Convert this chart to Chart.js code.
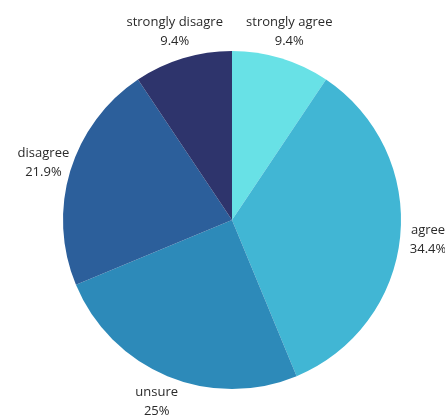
<!DOCTYPE html>
<html>
<head>
<meta charset="utf-8">
<script src="https://cdn.jsdelivr.net/npm/chart.js@4"></script>
<style>
body { margin:0; background:#fff; }
canvas { display:block; }
</style>
</head>
<body>
<canvas id="grafico" width="445" height="415"></canvas>
<script>
const categorias = ["strongly agree","agree","unsure","disagree","strongly disagre"]
const percentuais = [9.4, 34.4, 25, 21.9, 9.4]
const cores = ["#68e1e6","#41b6d4","#2d8ab9","#2c5f9b","#2e346c"]

// ---------------- ROTULOS FORA DA PIZZA ----------------
const rotulos = {
id:"rotulos",
afterDraw(chart){
const ctx = chart.ctx
const meta = chart.getDatasetMeta(0)
ctx.save()
ctx.font = "13px 'Open Sans'"
ctx.fillStyle = "#2a2a2a"
ctx.textAlign = "center"
ctx.textBaseline = "middle"
meta.data.forEach((arc,i) => {
const p = arc.getProps(["x","y","startAngle","endAngle","outerRadius"],true)
const meio = (p.startAngle + p.endAngle)/2
const r = p.outerRadius + 28
const x = p.x + Math.cos(meio)*r
const y = p.y + Math.sin(meio)*r
ctx.fillText(categorias[i], x, y - 9.5)
ctx.fillText(percentuais[i] + "%", x, y + 9.5)
})
ctx.restore()
}
}

new Chart(document.getElementById("grafico"),{
type:"pie",
data:{
labels:categorias,
datasets:[{
data:percentuais,
backgroundColor:cores,
borderWidth:0
}]
},
options:{
responsive:false,
animation:false,
layout:{ padding:{ left:63, right:44, top:51, bottom:26 } },
plugins:{
legend:{ display:false },
tooltip:{ enabled:false }
}
},
plugins:[rotulos]
})
</script>
</body>
</html>
